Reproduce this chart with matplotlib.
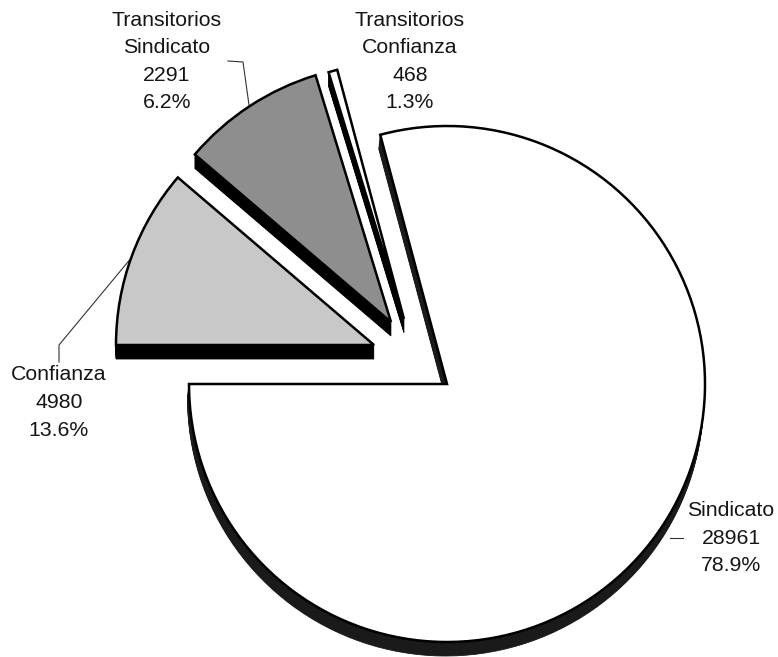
import matplotlib
matplotlib.use("Agg")
import matplotlib.pyplot as plt
from matplotlib.patches import Wedge

W, H = 778, 657

# order: counter-clockwise from the 9 o'clock position
categories = ["Sindicato", "Transitorios\nConfianza", "Transitorios\nSindicato", "Confianza"]
counts = [28961, 468, 2291, 4980]
percents = ["78.9%", "1.3%", "6.2%", "13.6%"]
# slice sizes as actually drawn in the picture (degrees); they differ from the printed percentages
drawn_degrees = [285, 2, 32.5, 40.5]

face_colors = ["white", "white", "#8e8e8e", "#c8c8c8"]
side_colors = ["#1a1a1a", "black", "black", "black"]
apex_px = [(447, 384), (404, 319), (391, 322), (374, 345)]
side_shift_px = [1.5, 0, 0, 0]
label_px = [(731, 538), (410, 61.5), (167, 61.5), (59, 402.5)]
RADIUS = 258
DEPTH = 14

plt.rcParams["font.family"] = ["Liberation Sans", "DejaVu Sans"]
fig = plt.figure(figsize=(W / 100, H / 100), dpi=100)
ax = fig.add_axes([0, 0, 1, 1])

wedges, _ = ax.pie(drawn_degrees, startangle=180, radius=RADIUS, colors=face_colors,
                   wedgeprops=dict(edgecolor="black", linewidth=1.8, joinstyle="miter"))
ax.set_xlim(0, W)
ax.set_ylim(0, H)
ax.set_aspect("auto")
ax.axis("off")

for w, (px, py), side, shift in zip(wedges, apex_px, side_colors, side_shift_px):
    cx, cy = px, H - py
    w.set_center((cx, cy))
    w.set_zorder(5)
    for d in range(1, DEPTH + 1):
        ax.add_patch(Wedge((cx - shift * d / DEPTH, cy - d), RADIUS, w.theta1, w.theta2,
                           facecolor=side, edgecolor=side, linewidth=0.6, zorder=4))

for name, n, pct, (x, y) in zip(categories, counts, percents, label_px):
    ax.text(x, H - y, f"{name}\n{n}\n{pct}", ha="center", va="center", fontsize=15.3,
            color="#151515", linespacing=1.57, zorder=6)

leaders = [
    ([228, 243, 249], [61, 62, 105]),
    ([59, 59, 132], [362, 345, 257]),
    ([670, 683], [538, 538]),
]
for xs, ys in leaders:
    ax.plot(xs, [H - v for v in ys], color="#333333", lw=0.8, zorder=3)

fig.savefig("out.png", dpi=100)
